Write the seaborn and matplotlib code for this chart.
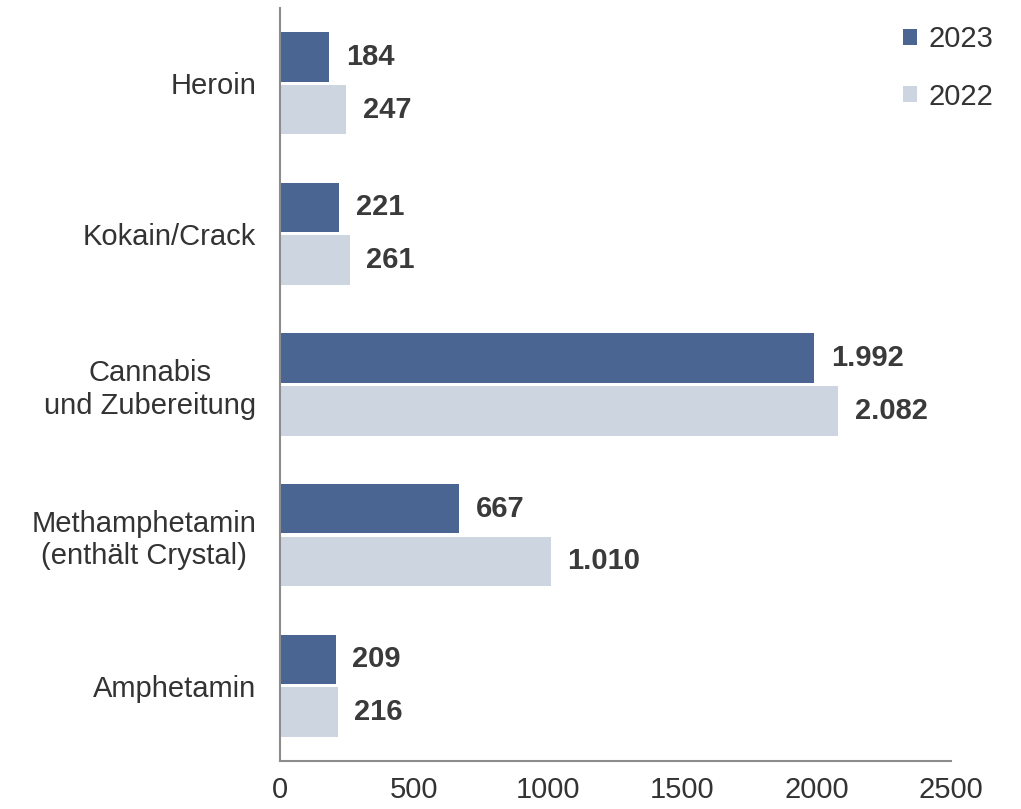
import matplotlib
matplotlib.use("Agg")
import matplotlib.pyplot as plt
import seaborn as sns
import pandas as pd

categories = ["Heroin", "Kokain/Crack", "Cannabis\nund Zubereitung",
              "Methamphetamin\n(enthält Crystal)", "Amphetamin"]
values_2023 = [184, 221, 1992, 667, 209]
values_2022 = [247, 261, 2082, 1010, 216]
years = ["2023", "2022"]
x_ticks = [0, 500, 1000, 1500, 2000, 2500]

sns.set_theme(style="white")
plt.rcParams['font.family'] = ['Liberation Sans', 'DejaVu Sans']

df = pd.DataFrame({
    "cat": categories * 2,
    "value": values_2023 + values_2022,
    "year": [years[0]] * len(categories) + [years[1]] * len(categories),
})

fig = plt.figure(figsize=(10.21, 8.09), dpi=100)
ax = fig.add_axes([0.274, 0.0593, 0.657, 0.931])

palette = {"2023": "#4A6591", "2022": "#CDD5E0"}
sns.barplot(data=df, y="cat", x="value", hue="year", hue_order=years,
            order=categories, orient="h", palette=palette, width=0.70,
            gap=0.06, saturation=1, ax=ax, errorbar=None, linewidth=0)

def fmt(v):
    return f"{v:,}".replace(",", ".")

for cont in ax.containers:
    ax.bar_label(cont, labels=[fmt(int(v)) for v in cont.datavalues],
                 padding=12, fontsize=21, fontweight="bold", color="#3A3A3A")

ax.set_xlim(0, 2500)
ax.set_xticks(x_ticks)
ax.set_xticklabels([str(t) for t in x_ticks])
ax.set_xlabel("")
ax.set_ylabel("")
ax.tick_params(axis="both", length=0, labelsize=21, colors="#333333")
ax.tick_params(axis="y", pad=17)
ax.tick_params(axis="x", pad=11)
for lbl in ax.get_yticklabels():
    lbl.set_multialignment("center")

for s in ["top", "right"]:
    ax.spines[s].set_visible(False)
for s in ["left", "bottom"]:
    ax.spines[s].set_color("#8C8C8C")
    ax.spines[s].set_linewidth(1.5)

leg = ax.legend(loc="upper right", bbox_to_anchor=(1.09, 1.0), frameon=False,
                fontsize=21, handlelength=0.48, handleheight=0.48,
                handletextpad=0.4, labelspacing=1.0, borderaxespad=0.2)
for t in leg.get_texts():
    t.set_color("#333333")

fig.savefig("out.png", dpi=100)
